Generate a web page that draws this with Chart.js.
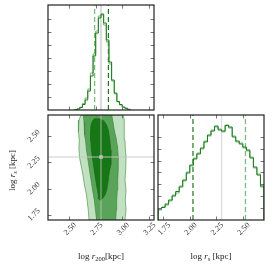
<!DOCTYPE html>
<html>
<head>
<meta charset="utf-8">
<script src="https://cdn.jsdelivr.net/npm/chart.js@4/dist/chart.umd.min.js"></script>
<style>
  body { margin: 0; background: #fff; }
  #wrap { position: relative; width: 274px; height: 266px; overflow: hidden; }
  #wrap canvas { position: absolute; left: 0; top: 0; }
</style>
</head>
<body>
<div id="wrap">
  <canvas id="cTop" width="274" height="266"></canvas>
  <canvas id="c2d" width="274" height="266"></canvas>
  <canvas id="cRs" width="274" height="266"></canvas>
</div>
<script>
/* ===== DATA ===== */
const R200_RANGE = [2.30, 3.30];
const RS_RANGE = [1.70, 2.70];
const R200_TICKS = [2.50, 2.75, 3.00, 3.25];
const RS_TICKS = [1.75, 2.00, 2.25, 2.50];

const r200Truth = 2.80;
const rsTruth = 2.30;

// quantile markers (dashed)
const r200QLight = 2.74, r200QDark = 2.87;
const rsQDark = 2.03, rsQLight = 2.525;

// log r200 histograms (bin start 2.55, width 0.025)
const R200_BIN_START = 2.55, R200_BIN_W = 0.025;
const r200HistDark = [0.3, 1, 2.5, 5.5, 10, 19, 34, 54, 77, 92, 96, 87, 70, 48, 30, 17, 8.5, 5.5, 3, 1.8, 0.7];
const r200HistLight = [0.4, 1.3, 2.8, 6.5, 12, 21, 37, 56, 79, 94, 95, 85, 68, 46, 29, 16, 8, 5, 2.6, 1.5, 0.5];
const R200_HIST_MAX = 105;
const R200_HIST_YTICKS = [13, 26, 39, 52, 65, 78, 91];

// log rs histograms (bin start 1.70, width 1/30)
const RS_BIN_START = 1.70, RS_BIN_W = 1 / 30;
const rsHistDark = [11, 12.5, 16, 20, 24, 28.5, 33, 40, 47, 55, 61, 66, 72, 78, 85, 89, 94, 90, 89, 94.5, 93, 83, 79, 76, 73, 70, 62, 53, 45, 34];
const rsHistLight = [10, 13, 15, 19, 25, 27, 34, 39, 48, 54, 62, 67, 71, 79, 84, 90, 93, 91, 88, 95, 92, 84, 78, 77, 72, 69, 63, 52, 46, 33];
const RS_HIST_MAX = 105;
const RS_HIST_YTICKS = [11.9, 23.8, 35.7, 47.6, 59.5, 71.4, 83.3];

// 2D credible regions (log r200, log rs)
const outerX = [2.611, 2.592, 2.586, 2.588, 2.595, 2.592, 2.597, 2.611, 2.630, 2.644, 2.663, 2.672, 2.680, 2.687,
                3.026, 3.036, 3.029, 3.036, 3.026, 3.033, 3.036, 3.029, 3.026, 3.022, 3.017, 3.010, 2.611];
const outerY = [2.70, 2.652, 2.605, 2.538, 2.462, 2.386, 2.30, 2.224, 2.129, 2.033, 1.938, 1.862, 1.795, 1.70,
                1.70, 1.795, 1.890, 1.986, 2.081, 2.176, 2.30, 2.386, 2.462, 2.557, 2.652, 2.70, 2.70];
const midX = [2.633, 2.640, 2.642, 2.649, 2.656, 2.663, 2.673, 2.687, 2.706, 2.720, 2.737, 2.748, 2.759,
              2.939, 2.944, 2.948, 2.954, 2.958, 2.963, 2.963, 2.956, 2.942, 2.925, 2.913, 2.901, 2.633];
const midY = [2.70, 2.633, 2.576, 2.510, 2.443, 2.367, 2.30, 2.205, 2.081, 1.986, 1.890, 1.795, 1.70,
              1.70, 1.795, 1.890, 1.986, 2.081, 2.195, 2.30, 2.395, 2.481, 2.557, 2.633, 2.70, 2.70];
const innerX = [2.753, 2.791, 2.828, 2.852, 2.869, 2.883, 2.892, 2.894, 2.890, 2.878, 2.866, 2.854, 2.838, 2.819,
                2.795, 2.781, 2.775, 2.758, 2.743, 2.729, 2.718, 2.708, 2.703, 2.701, 2.706, 2.720, 2.734, 2.753];
const innerY = [2.667, 2.662, 2.643, 2.605, 2.557, 2.462, 2.367, 2.30, 2.224, 2.157, 2.062, 1.986, 1.938, 1.910,
                1.886, 1.90, 1.938, 2.033, 2.129, 2.224, 2.30, 2.386, 2.462, 2.538, 2.605, 2.643, 2.662, 2.667];

const R200_TITLE = [{ t: "log " }, { t: "r", i: true }, { t: "200", sub: true }, { t: "[kpc]" }];
const RS_TITLE = [{ t: "log " }, { t: "r", i: true }, { t: "s", sub: true, i: true }, { t: " [kpc]" }];

/* ===== COLORS ===== */
const DARK = "#1b7a1b";
const LIGHT = "#74b874";
const FONT = '"Liberation Serif", "DejaVu Serif", serif';

/* ===== HELPERS ===== */
function stepPoints(start, width, counts) {
  const pts = [{ x: start, y: 0 }];
  counts.forEach((c, i) => pts.push({ x: start + i * width, y: c }));
  pts.push({ x: start + counts.length * width, y: 0 });
  return pts;
}

function zipXY(xs, ys) {
  return xs.map((x, i) => ({ x, y: ys[i] }));
}

function vline(x, ymin, ymax, color, width, dash) {
  return {
    data: [{ x, y: ymin }, { x, y: ymax }],
    borderColor: color, borderWidth: width, borderDash: dash || [],
    pointRadius: 0, fill: false, order: 2,
  };
}

function drawTitle(ctx, parts, cx, cy, rot) {
  ctx.save();
  ctx.translate(cx, cy);
  ctx.rotate(rot);
  const fonts = parts.map(p => (p.i ? "italic " : "") + (p.sub ? 6.5 : 9) + "px " + FONT);
  let total = 0;
  const ws = parts.map((p, k) => {
    ctx.font = fonts[k];
    const w = ctx.measureText(p.t).width;
    total += w;
    return w;
  });
  let xx = -total / 2;
  ctx.textAlign = "left";
  ctx.textBaseline = "alphabetic";
  ctx.fillStyle = "#222";
  parts.forEach((p, k) => {
    ctx.font = fonts[k];
    ctx.fillText(p.t, xx, 3 + (p.sub ? 2 : 0));
    xx += ws[k];
  });
  ctx.restore();
}

/* ===== FRAME / TICKS PLUGIN ===== */
const framePlugin = {
  id: "frame",
  afterDatasetsDraw(chart, args, o) {
    const { ctx, chartArea: a, scales: { x, y } } = chart;
    ctx.save();
    ctx.strokeStyle = "#777";
    ctx.lineWidth = 1;
    ctx.beginPath();
    o.xTicks.forEach(v => {
      const p = Math.round(x.getPixelForValue(v)) + 0.5;
      ctx.moveTo(p, a.bottom); ctx.lineTo(p, a.bottom - 3.5);
      ctx.moveTo(p, a.top); ctx.lineTo(p, a.top + 3.5);
    });
    o.yTicks.forEach(v => {
      const p = Math.round(y.getPixelForValue(v)) + 0.5;
      ctx.moveTo(a.left, p); ctx.lineTo(a.left + 3.5, p);
      ctx.moveTo(a.right, p); ctx.lineTo(a.right - 3.5, p);
    });
    ctx.stroke();

    ctx.strokeStyle = "#222";
    ctx.lineWidth = 1.2;
    ctx.strokeRect(a.left, a.top, a.width, a.height);

    ctx.fillStyle = "#333";
    ctx.font = "8px " + FONT;
    ctx.textAlign = "center";
    ctx.textBaseline = "middle";
    if (o.xLabels) {
      o.xTicks.forEach(v => {
        ctx.save();
        ctx.translate(x.getPixelForValue(v) + 1, a.bottom + 9);
        ctx.rotate(-Math.PI / 4);
        ctx.fillText(v.toFixed(2), 0, 0);
        ctx.restore();
      });
    }
    if (o.yLabels) {
      o.yTicks.forEach(v => {
        ctx.save();
        ctx.translate(a.left - 14, y.getPixelForValue(v));
        ctx.rotate(-Math.PI / 4);
        ctx.fillText(v.toFixed(2), 0, 0);
        ctx.restore();
      });
    }
    if (o.xTitle) drawTitle(ctx, o.xTitle, (a.left + a.right) / 2, a.bottom + 36, 0);
    if (o.yTitle) drawTitle(ctx, o.yTitle, 12, (a.top + a.bottom) / 2 + 3, -Math.PI / 2);
    ctx.restore();
  },
};

function baseOptions(xr, yr, padding, frame) {
  return {
    responsive: false,
    animation: false,
    events: [],
    layout: { padding },
    plugins: { legend: { display: false }, tooltip: { enabled: false }, frame },
    scales: {
      x: { type: "linear", min: xr[0], max: xr[1], display: false },
      y: { type: "linear", min: yr[0], max: yr[1], display: false },
    },
    elements: { line: { tension: 0 }, point: { radius: 0 } },
  };
}

/* ===== TOP: log r200 marginal ===== */
new Chart(document.getElementById("cTop"), {
  type: "line",
  data: {
    datasets: [
      { data: stepPoints(R200_BIN_START, R200_BIN_W, r200HistDark), stepped: true, borderColor: DARK, borderWidth: 1, pointRadius: 0, fill: false, order: 1 },
      { data: stepPoints(R200_BIN_START, R200_BIN_W, r200HistLight), stepped: true, borderColor: LIGHT, borderWidth: 1, pointRadius: 0, fill: false, order: 1 },
      vline(r200QLight, 0, R200_HIST_MAX, LIGHT, 1.2, [5, 3]),
      vline(r200QDark, 0, R200_HIST_MAX, DARK, 1.2, [5, 3]),
      { ...vline(r200Truth, 0, R200_HIST_MAX, "#dcdcdc", 2.2), order: 3 },
    ],
  },
  options: baseOptions(R200_RANGE, [0, R200_HIST_MAX], { left: 48, top: 5, right: 120, bottom: 156 },
    { xTicks: R200_TICKS, yTicks: R200_HIST_YTICKS }),
  plugins: [framePlugin],
});

/* ===== BOTTOM LEFT: 2D ===== */
new Chart(document.getElementById("c2d"), {
  type: "line",
  data: {
    datasets: [
      { data: zipXY(outerX, outerY), fill: "shape", backgroundColor: "#c2e1c2", borderColor: "#4f9a4f", borderWidth: 0.7, pointRadius: 0, order: 6 },
      { data: zipXY(midX, midY), fill: "shape", backgroundColor: "#5aa45a", borderColor: "#3d8a3d", borderWidth: 0.7, pointRadius: 0, order: 5 },
      { data: zipXY(innerX, innerY), fill: "shape", backgroundColor: "#177717", borderColor: "#146a14", borderWidth: 0.7, pointRadius: 0, order: 4 },
      vline(r200Truth, RS_RANGE[0], RS_RANGE[1], "rgba(200,200,200,0.6)", 1.3),
      { data: [{ x: R200_RANGE[0], y: rsTruth }, { x: R200_RANGE[1], y: rsTruth }], borderColor: "rgba(200,200,200,0.9)", borderWidth: 1.2, pointRadius: 0, fill: false, order: 2 },
      { data: [{ x: r200Truth, y: rsTruth }], showLine: false, pointStyle: "rect", pointRadius: 2.6, pointBackgroundColor: "#bdbdbd", pointBorderWidth: 0, order: 1 },
    ],
  },
  options: baseOptions(R200_RANGE, RS_RANGE, { left: 48, top: 115, right: 120, bottom: 46 },
    { xTicks: R200_TICKS, yTicks: RS_TICKS, xLabels: true, yLabels: true, xTitle: R200_TITLE, yTitle: RS_TITLE }),
  plugins: [framePlugin],
});

/* ===== BOTTOM RIGHT: log rs marginal ===== */
new Chart(document.getElementById("cRs"), {
  type: "line",
  data: {
    datasets: [
      { data: stepPoints(RS_BIN_START, RS_BIN_W, rsHistDark), stepped: true, borderColor: DARK, borderWidth: 1, pointRadius: 0, fill: false, order: 1 },
      { data: stepPoints(RS_BIN_START, RS_BIN_W, rsHistLight), stepped: true, borderColor: LIGHT, borderWidth: 1, pointRadius: 0, fill: false, order: 1 },
      vline(rsQDark, 0, RS_HIST_MAX, DARK, 1.2, [5, 3]),
      vline(rsQLight, 0, RS_HIST_MAX, LIGHT, 1.2, [5, 3]),
      { ...vline(rsTruth, 0, RS_HIST_MAX, "#dcdcdc", 1.3), order: 3 },
    ],
  },
  options: baseOptions(RS_RANGE, [0, RS_HIST_MAX], { left: 158, top: 115, right: 10, bottom: 46 },
    { xTicks: RS_TICKS, yTicks: RS_HIST_YTICKS, xLabels: true, xTitle: RS_TITLE }),
  plugins: [framePlugin],
});
</script>
</body>
</html>
